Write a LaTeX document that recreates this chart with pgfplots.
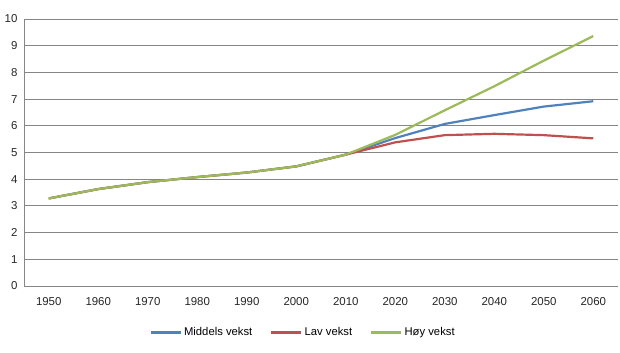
\documentclass[border=0pt]{standalone}
\usepackage{pgfplots}
\pgfplotsset{compat=1.18}
\usepackage{fontspec}
\setmainfont{Liberation Sans}
\definecolor{cblue}{HTML}{4F81BD}
\definecolor{cred}{HTML}{C0504D}
\definecolor{cgreen}{HTML}{9BBB59}
\definecolor{cgrid}{HTML}{868686}
\begin{document}
\begin{tikzpicture}
\begin{axis}[
  name=ax,
  scale only axis,
  width=594bp, height=267bp,
  xmin=1945, xmax=2065,
  ymin=0, ymax=10,
  xtick={1950,1960,...,2060},
  ytick={0,1,...,10},
  xticklabel style={/pgf/number format/1000 sep={}},
  /pgf/number format/assume math mode=true,
  tick label style={font=\fontsize{11.5}{13}\selectfont, text=black!85},
  major tick length=0pt,
  ymajorgrids,
  grid style={cgrid, line width=0.9pt},
  axis x line*=bottom,
  axis y line*=left,
  axis line style={cgrid, line width=0.9pt},
  x axis line style={-},
  y axis line style={-},
  xticklabel shift=8bp,
  yticklabel shift=3bp,
  legend style={draw=none, at={(0.47,-0.14)}, anchor=north, legend columns=3,
    font=\fontsize{11.3}{13}\selectfont, /tikz/every even column/.append style={column sep=16bp}},
  legend image code/.code={\draw[#1, line width=2.4pt] (0bp,0bp) -- (30bp,0bp);},
  every axis plot/.append style={line width=2.2pt, line join=round},
]
\addplot[cblue] coordinates {(1950,3.28) (1960,3.63) (1970,3.89) (1980,4.08) (1990,4.25) (2000,4.48) (2010,4.92) (2020,5.54) (2030,6.07) (2040,6.40) (2050,6.72) (2060,6.92)};
\addlegendentry{Middels vekst}
\addplot[cred] coordinates {(1950,3.28) (1960,3.63) (1970,3.89) (1980,4.08) (1990,4.25) (2000,4.48) (2010,4.92) (2020,5.38) (2030,5.65) (2040,5.70) (2050,5.65) (2060,5.53)};
\addlegendentry{Lav vekst}
\addplot[cgreen] coordinates {(1950,3.28) (1960,3.63) (1970,3.89) (1980,4.08) (1990,4.25) (2000,4.48) (2010,4.92) (2020,5.66) (2030,6.58) (2040,7.48) (2050,8.44) (2060,9.36)};
\addlegendentry{Høy vekst}
\end{axis}
\pgfresetboundingbox
\path[use as bounding box] ([xshift=-24bp,yshift=-67bp]ax.south west) rectangle ([xshift=2bp,yshift=19bp]ax.north east);
\end{tikzpicture}
\end{document}
